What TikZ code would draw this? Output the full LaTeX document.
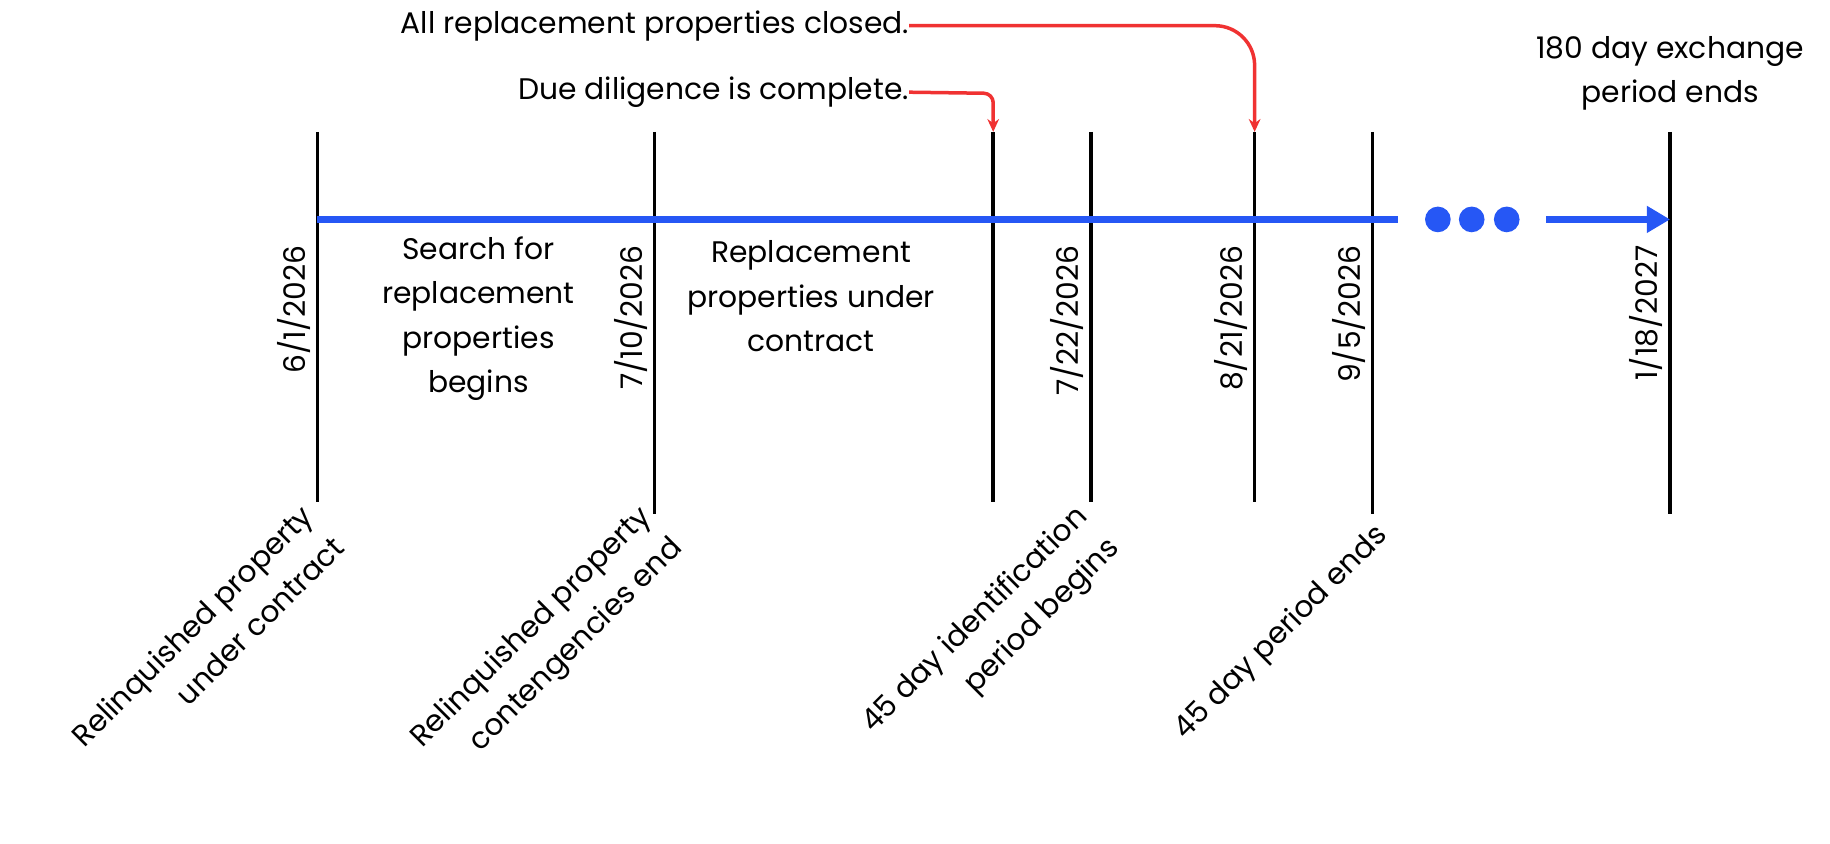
\documentclass[tikz,border=0pt]{standalone}
\usepackage{fontspec}
\setmainfont{Poppins}
\usetikzlibrary{arrows.meta}
\definecolor{myblue}{HTML}{2657F5}
\definecolor{myred}{HTML}{F03232}
\begin{document}
\begin{tikzpicture}[x=1pt,y=-1pt,
  tick/.style={line width=3pt,black},
  lab/.style={font=\fontsize{25.5}{38}\selectfont,inner sep=0pt},
  date/.style={lab,rotate=90,anchor=south east},
  ev/.style={lab,rotate=45,anchor=north east,align=right},
  redarr/.style={myred,line width=3pt,-{Stealth[length=11pt,width=10pt]}}]
\useasboundingbox (0,0) rectangle (1568,723);
\foreach \n/\x/\b in {a/272/430,b/561/440,c/851/430,d/935/430,e/1075/430,f/1176/440,g/1431/440}{
  \coordinate (\n t) at (\x,113); \coordinate (\n b) at (\x,\b);
  \draw[tick] (\n t) -- (\n b);}
\coordinate (bl0) at (272,188); \coordinate (bl1) at (1198,188);
\draw[myblue,line width=6pt] (bl0) -- (bl1);
\foreach \x [count=\i] in {1232,1261,1291}{\node[circle,fill=myblue,minimum size=22pt,inner sep=0pt] (dot\i) at (\x,188) {};}
\coordinate (ar0) at (1325,188);
\draw[myblue,line width=6pt,-{Stealth[length=20pt,width=22pt,inset=0pt]}] (ar0) -- (gt |- ar0);
\node[date] (d1) at (266,210) {6/1/2026};
\node[date] (d2) at (555,210) {7/10/2026};
\node[date] (d4) at (929,210) {7/22/2026};
\node[date] (d5) at (1069,210) {8/21/2026};
\node[date] (d6) at (1170,210) {9/5/2026};
\node[date] (d7) at (1425,210) {1/18/2027};
\node[lab,align=center] (s1) at (410,273) {Search for\\replacement\\properties\\begins};
\node[lab,align=center] (s2) at (695,254) {Replacement\\properties under\\contract};
\node[lab,align=center] (s3) at (1431,63) {180 day exchange\\period ends};
\node[ev] (e1) at (256,430) {Relinquished property\\under contract};
\node[ev] (e2) at (545,430) {Relinquished property\\contengencies end};
\node[ev] (e3) at (919,430) {45 day identification\\period begins};
\node[ev] (e4) at (1176,446) {45 day period ends};
\node[lab,anchor=east] (n1) at (779,79) {Due diligence is complete.};
\node[lab,anchor=east] (n2) at (779,22) {All replacement properties closed.};
\draw[redarr,rounded corners=8pt] (n1.east) -- (851,80) -- (ct);
\draw[redarr,rounded corners=34pt] (n2.east) -- (1075,22) -- (et);
\end{tikzpicture}
\end{document}
